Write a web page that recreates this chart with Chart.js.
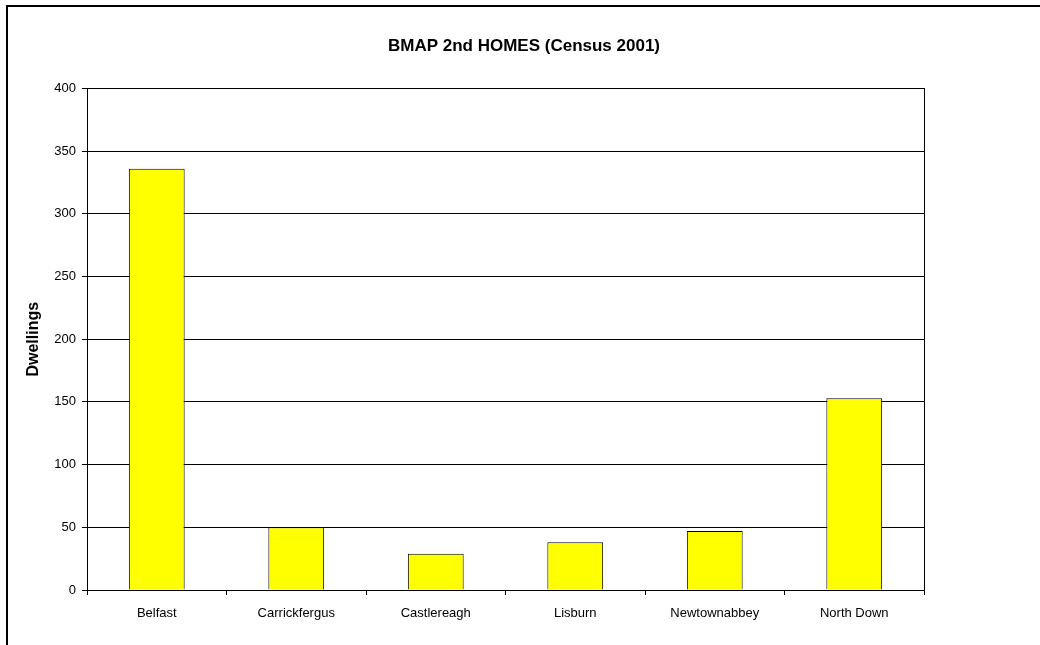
<!DOCTYPE html>
<html>
<head>
<meta charset="utf-8">
<script src="https://cdn.jsdelivr.net/npm/chart.js@4.4.0/dist/chart.umd.min.js"></script>
<style>
  html, body { margin: 0; padding: 0; background: #fff; }
  #wrap { position: relative; width: 1040px; height: 645px; overflow: hidden; }
  #frame {
    position: absolute; left: 6px; top: 5px; width: 1100px; height: 700px;
    border-left: 2px solid #000; border-top: 2px solid #000;
  }
  canvas { position: absolute; left: 0; top: 0; }
</style>
</head>
<body>
<div id="wrap">
  <div id="frame"></div>
  <canvas id="homesChart" width="1040" height="645"></canvas>
</div>
<script>
// second homes per council area
const councils = ['Belfast', 'Carrickfergus', 'Castlereagh', 'Lisburn', 'Newtownabbey', 'North Down'];
const dwellings = [336, 50, 29, 38, 47, 153];
const yTicks = [0, 50, 100, 150, 200, 250, 300, 350, 400];

const FONT = 'Arial, "Liberation Sans", sans-serif';

// box round the plot area (top and right sides aren't drawn by the axes)
const plotBorder = {
  id: 'plotBorder',
  afterDatasetsDraw(chart) {
    const a = chart.chartArea;
    const ctx = chart.ctx;
    ctx.save();
    ctx.strokeStyle = '#000';
    ctx.lineWidth = 1;
    ctx.strokeRect(Math.round(a.left) + 0.5, Math.round(a.top) + 0.5,
      Math.round(a.right - a.left), Math.round(a.bottom - a.top));
    ctx.restore();
  }
};

const ctx = document.getElementById('homesChart').getContext('2d');
new Chart(ctx, {
  type: 'bar',
  data: {
    labels: councils,
    datasets: [{
      label: 'Dwellings',
      data: dwellings,
      backgroundColor: '#ffff00',
      borderColor: '#000',
      borderWidth: 1,
      categoryPercentage: 1,
      barPercentage: 0.4
    }]
  },
  options: {
    responsive: false,
    animation: false,
    layout: { padding: { left: 24, right: 16, top: 0, bottom: 0 } },
    plugins: {
      legend: { display: false },
      tooltip: { enabled: false },
      title: {
        display: true,
        text: 'BMAP 2nd HOMES (Census 2001)',
        color: '#000',
        font: { family: FONT, size: 17, weight: 'bold' },
        padding: { top: 36, bottom: 32 }
      }
    },
    scales: {
      x: {
        afterFit(scale) { scale.height = 55; },
        grid: {
          display: true,
          drawOnChartArea: false,
          drawTicks: true,
          tickLength: 5,
          color: '#000',
          offset: true
        },
        border: { display: true, color: '#000', width: 1 },
        ticks: {
          color: '#000',
          padding: 11,
          maxRotation: 0,
          font: { family: FONT, size: 13 }
        }
      },
      y: {
        min: 0,
        max: 400,
        afterFit(scale) { scale.width = 63; },
        afterBuildTicks(scale) { scale.ticks = yTicks.map(v => ({ value: v })); },
        grid: {
          color: '#000',
          lineWidth: 1,
          tickLength: 5,
          drawTicks: true
        },
        border: { display: true, color: '#000', width: 1 },
        ticks: {
          color: '#000',
          padding: 6,
          font: { family: FONT, size: 13 }
        },
        title: {
          display: true,
          text: 'Dwellings',
          color: '#000',
          padding: 0,
          font: { family: FONT, size: 16, weight: 'bold' }
        }
      },
      // empty right-hand margin so the plot ends where it should
      yRight: {
        position: 'right',
        display: true,
        afterFit(scale) { scale.width = 100; },
        grid: { drawOnChartArea: false, drawTicks: false },
        border: { display: false },
        ticks: { display: false }
      }
    }
  },
  plugins: [plotBorder]
});
</script>
</body>
</html>
